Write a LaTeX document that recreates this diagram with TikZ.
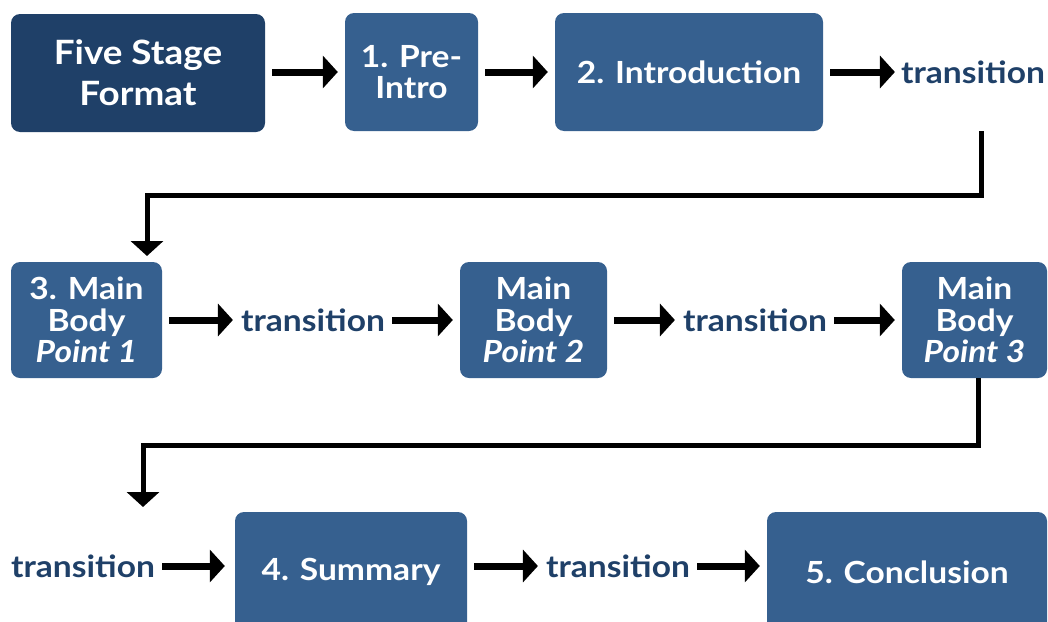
\documentclass[tikz,border=0pt]{standalone}
\usepackage{fontspec}
\setmainfont{Lato}[FakeStretch=1.1]
\usetikzlibrary{arrows.meta}
\definecolor{navy}{RGB}{31,64,104}
\definecolor{steel}{RGB}{54,96,143}
\begin{document}
\begin{tikzpicture}[x=1pt,y=-1pt,
  stage/.style={fill=steel, rounded corners=9pt, text=white, align=center,
    inner sep=0pt, font=\fontsize{30.5}{31.5}\selectfont\bfseries},
  titlebox/.style={stage, fill=navy, font=\fontsize{33.5}{41}\selectfont\bfseries},
  trans/.style={text=navy, inner sep=0pt, font=\fontsize{30.5}{31.5}\selectfont\bfseries},
  flow/.style={line width=7pt, -{Triangle[length=15pt,width=32pt]},
    shorten <=7pt, shorten >=7pt},
  loop/.style={line width=5pt, -{Triangle[length=15pt,width=32pt]}}]
\useasboundingbox (0,0) rectangle (1048,621);
\clip (0,0) rectangle (1048,621);

% first row
\node[titlebox, minimum width=254pt, minimum height=118pt] (five) at (138,73) {Five Stage\\Format};
\node[stage, minimum width=133pt, minimum height=118pt] (pre) at (411.5,72) {1. Pre-\\Intro};
\node[stage, minimum width=268pt, minimum height=118pt] (intro) at (689,72) {2. Introduction};
\node[trans] (t1) at (973,72) {transition};

% second row
\node[stage, minimum width=151pt, minimum height=116pt] (p1) at (86.5,320) {3. Main\\Body\\\textit{Point 1}};
\node[trans] (t2) at (313,320) {transition};
\node[stage, minimum width=147pt, minimum height=116pt] (p2) at (533.5,320) {Main\\Body\\\textit{Point 2}};
\node[trans] (t3) at (755,320) {transition};
\node[stage, minimum width=145pt, minimum height=116pt] (p3) at (974.5,320) {Main\\Body\\\textit{Point 3}};

% third row
\node[trans] (t4) at (83,566) {transition};
\node[stage, minimum width=232pt, minimum height=120pt] (sum) at (351,572) {4. Summary};
\node[trans] (t5) at (618,566) {transition};
\node[stage, minimum width=280pt, minimum height=120pt] (conc) at (907,572) {5. Conclusion};

% row arrows
\draw[flow] (five.east |- pre.west) -- (pre);
\draw[flow] (pre) -- (intro);
\draw[flow, shorten >=6pt] (intro.east) -- (t1.west);
\draw[flow] (p1.east) -- ([xshift=-1pt]t2.west);
\draw[flow] (t2.east) -- (p2.west);
\draw[flow] (p2.east) -- ([xshift=-1pt]t3.west);
\draw[flow] (t3.east) -- (p3.west);
\draw[flow, shorten >=10pt] (t4.east) -- (t4.east -| sum.west);
\draw[flow] (sum.east |- t5.west) -- ([xshift=-1pt]t5.west);
\draw[flow] (t5.east) -- (t5.east -| conc.west);

% connectors between rows
\coordinate (d1) at (981,131);
\coordinate (e1) at (147,256);
\draw[loop] (d1) -- (981,195) -| (e1);
\coordinate (d2) at (978,378);
\coordinate (e2) at (143,507);
\draw[loop] (d2) -- (978,445) -| (e2);
\end{tikzpicture}
\end{document}
